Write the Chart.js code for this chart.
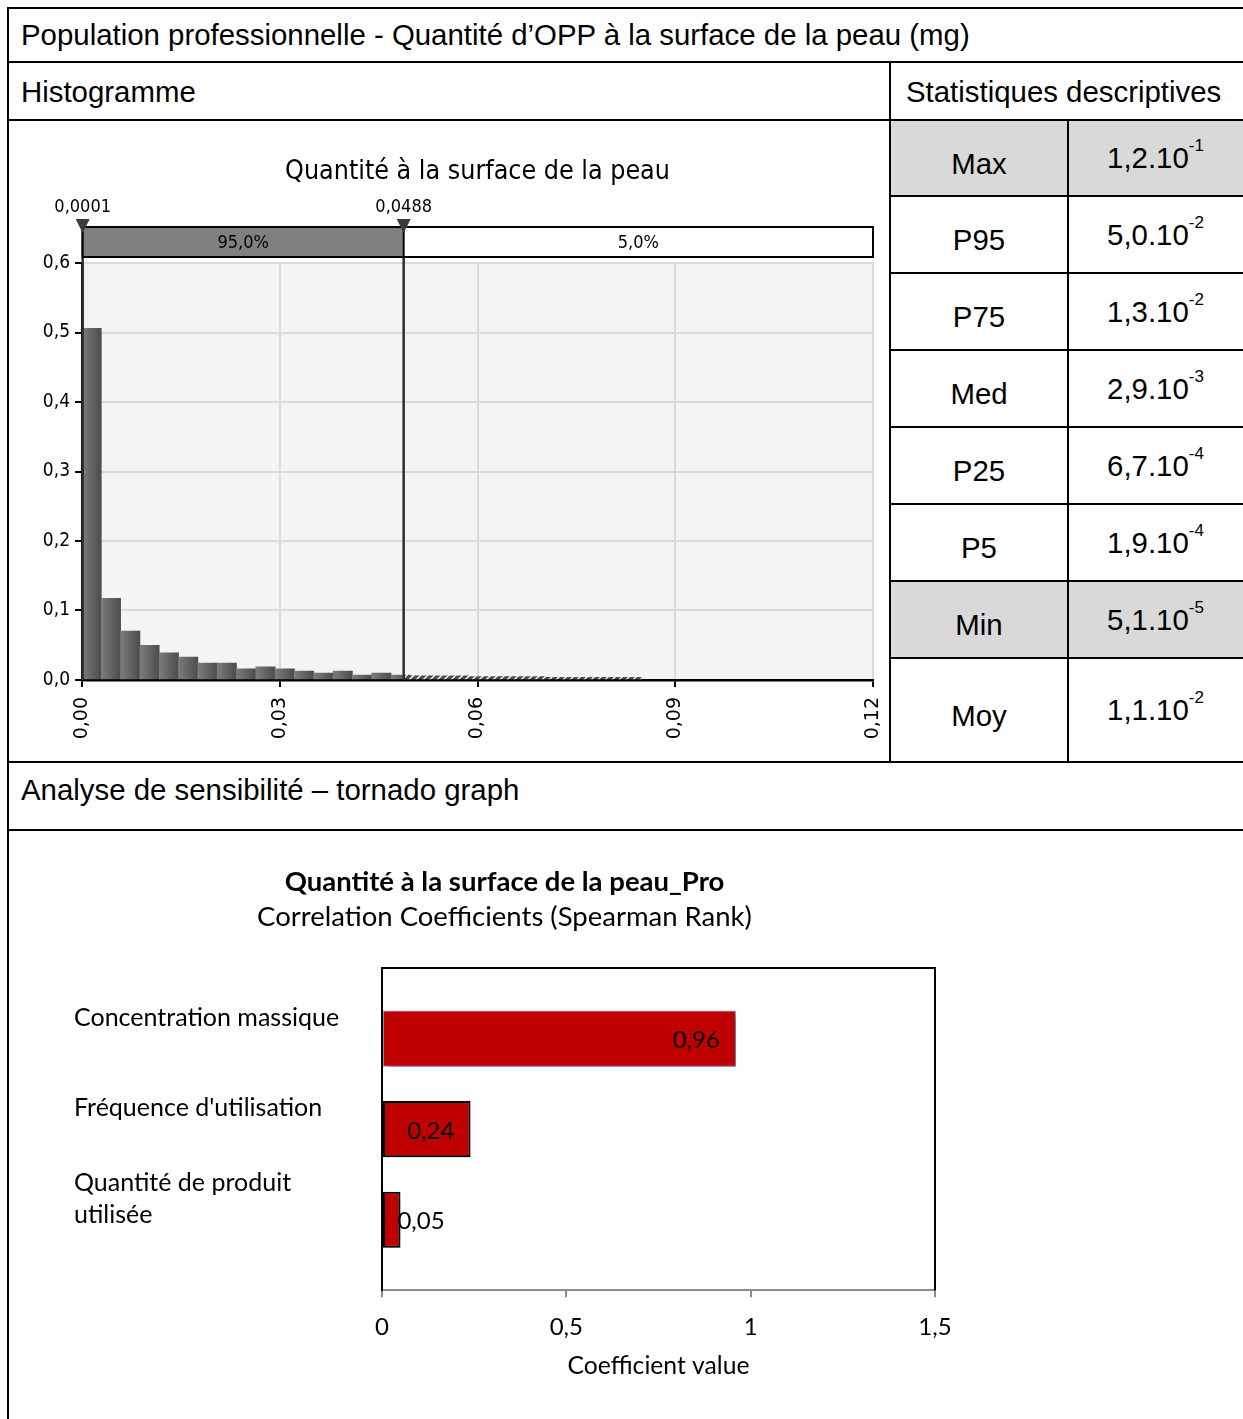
<!DOCTYPE html>
<html lang="fr">
<head>
<meta charset="utf-8">
<title>Quantité d’OPP à la surface de la peau</title>
<script src="https://cdn.jsdelivr.net/npm/chart.js@4.4.0/dist/chart.umd.min.js"></script>
<style>
  html, body { margin: 0; padding: 0; background: #fff; }
  #page { position: relative; width: 1243px; height: 1419px; overflow: hidden;
          font-family: "Liberation Sans", Arial, sans-serif; color: #000; }
  .trait { position: absolute; background: #000; }
  .entete { position: absolute; font-size: 29.4px; line-height: 28px; white-space: nowrap; }
  .cellule { position: absolute; display: flex; align-items: center; justify-content: center;
             font-size: 29.4px; box-sizing: border-box; }
  .cellule.nom { padding-top: 11px; }
  .grise { background: #d9d9d9; }
  .cellule sup { font-size: 17px; position: relative; top: -12px; vertical-align: baseline; line-height: 0; }
  canvas { position: absolute; }
</style>
</head>
<body>
<div id="page">
  <div class="entete" style="left:21px; top:21px;">Population professionnelle - Quantité d’OPP à la surface de la peau (mg)</div>
  <div class="entete" style="left:21px; top:78px;">Histogramme</div>
  <div class="entete" style="left:906px; top:78px;">Statistiques descriptives</div>
  <div class="entete" style="left:21px; top:776px;">Analyse de sensibilité – tornado graph</div>

  <canvas id="histogramme" width="880" height="640" style="left:9px; top:121px;"></canvas>
  <canvas id="tornado" width="986" height="588" style="left:8px; top:831px;"></canvas>
</div>

<script>
// Histogramme : fréquences relatives par classe
const largeurClasse = 0.00293;
const frequences = [0.506, 0.1175, 0.0705, 0.050, 0.039, 0.033, 0.0245, 0.0245, 0.016, 0.019,
                    0.016, 0.013, 0.010, 0.013, 0.0072, 0.010, 0.0072,
                    0.006, 0.006, 0.006, 0.005, 0.005, 0.005, 0.005, 0.004, 0.004, 0.004, 0.004, 0.004];
const bornes = [0.0001, 0.0488];          // bornes de l'intervalle à 95 %
const partsBornes = ['95,0%', '5,0%'];
const ticksX = [0, 0.03, 0.06, 0.09, 0.12];
const ticksY = [0, 0.1, 0.2, 0.3, 0.4, 0.5, 0.6];

// Statistiques descriptives
const statistiques = ['Max', 'P95', 'P75', 'Med', 'P25', 'P5', 'Min', 'Moy'];
const mantisses = ['1,2', '5,0', '1,3', '2,9', '6,7', '1,9', '5,1', '1,1'];
const exposants = ['-1', '-2', '-2', '-3', '-4', '-4', '-5', '-2'];

// Tornado : coefficients de Spearman
const facteurs = ['Concentration massique', "Fréquence d'utilisation", ['Quantité de produit', 'utilisée']];
const coefficients = [0.96, 0.24, 0.05];
const ticksCoeff = [0, 0.5, 1, 1.5];

const virgule = (v, d) => v.toFixed(d).replace('.', ',');

// ---- tableau : traits et cellules ----
const page = document.getElementById('page');
function trait(x, y, l, h) {
  const d = document.createElement('div');
  d.className = 'trait';
  Object.assign(d.style, { left: x + 'px', top: y + 'px', width: l + 'px', height: h + 'px' });
  page.appendChild(d);
}

const lignesStats = [120, 196, 273, 350, 427, 504, 581, 658, 762];
const lignesGrisees = ['Max', 'Min'];

statistiques.forEach((nom, i) => {
  const haut = lignesStats[i], bas = lignesStats[i + 1];
  const grise = lignesGrisees.includes(nom) ? ' grise' : '';
  const c1 = document.createElement('div');
  c1.className = 'cellule nom' + grise;
  Object.assign(c1.style, { left: '890px', top: haut + 'px', width: '178px', height: (bas - haut) + 'px' });
  c1.textContent = nom;
  const c2 = document.createElement('div');
  c2.className = 'cellule' + grise;
  Object.assign(c2.style, { left: '1068px', top: haut + 'px', width: '175px', height: (bas - haut) + 'px' });
  c2.innerHTML = mantisses[i] + '.10<sup>' + exposants[i] + '</sup>';
  page.appendChild(c1);
  page.appendChild(c2);
});

trait(8, 7, 1235, 2);
trait(7, 7, 2, 1412);
trait(8, 61, 1235, 2);
trait(8, 119, 1235, 2);
trait(889, 62, 2, 700);
trait(1067, 120, 2, 642);
lignesStats.slice(1, -1).forEach(y => trait(890, y - 1, 353, 2));
trait(8, 761, 1235, 2);
trait(8, 829, 1235, 2);

// ---- histogramme ----
const policeHisto = '"DejaVu Sans Condensed", "DejaVu Sans", sans-serif';

function motifHachure() {
  const c = document.createElement('canvas');
  c.width = 7; c.height = 7;
  const g = c.getContext('2d');
  g.fillStyle = '#4d4d4d';
  g.fillRect(0, 0, 7, 7);
  g.strokeStyle = '#ffffff';
  g.lineWidth = 1.3;
  g.beginPath(); g.moveTo(0, 7); g.lineTo(7, 0); g.stroke();
  return g.createPattern(c, 'repeat');
}

function degradeBarre(context) {
  const { chart, parsed } = context;
  const ech = chart.scales.x;
  if (!parsed || !ech) return '#5a5a5a';
  const xa = ech.getPixelForValue(parsed.x - largeurClasse / 2);
  const xb = ech.getPixelForValue(parsed.x + largeurClasse / 2);
  if (!Number.isFinite(xa) || !Number.isFinite(xb)) return '#5a5a5a';
  const g = chart.ctx.createLinearGradient(xa, 0, xb, 0);
  g.addColorStop(0, '#7c7c7c');
  g.addColorStop(1, '#4c4c4c');
  return g;
}

const classes = frequences.map((f, i) => ({ x: (i + 0.5) * largeurClasse, y: f }));
const avantSeuil = classes.filter(p => p.x - largeurClasse / 2 < bornes[1]);
const apresSeuil = classes.filter(p => p.x + largeurClasse / 2 > bornes[1]);

const fondGraphe = {
  id: 'fondGraphe',
  beforeDraw(chart) {
    const { ctx, chartArea: a } = chart;
    ctx.save();
    ctx.fillStyle = '#f4f4f4';
    ctx.fillRect(a.left, a.top, a.width, a.height);
    ctx.restore();
  }
};

// chaque série n'est dessinée que de son côté du seuil
const decoupeSeuil = {
  id: 'decoupeSeuil',
  beforeDatasetDraw(chart, args) {
    const { ctx, chartArea: a } = chart;
    const xs = chart.scales.x.getPixelForValue(bornes[1]);
    ctx.save();
    ctx.beginPath();
    if (args.index === 0) ctx.rect(a.left, a.top, xs - a.left, a.height);
    else ctx.rect(xs, a.top, a.right - xs, a.height);
    ctx.clip();
  },
  afterDatasetDraw(chart) { chart.ctx.restore(); }
};

const bandeSeuils = {
  id: 'bandeSeuils',
  afterDatasetsDraw(chart) {
    const { ctx, chartArea: a } = chart;
    const ech = chart.scales.x;
    const x0 = ech.getPixelForValue(bornes[0]);
    const x1 = ech.getPixelForValue(bornes[1]);
    const hautBande = a.top - 36, basBande = a.top - 6;
    ctx.save();

    // titre
    ctx.fillStyle = '#000';
    ctx.font = '26.6px ' + policeHisto;
    ctx.textAlign = 'center';
    ctx.textBaseline = 'middle';
    ctx.fillText('Quantité à la surface de la peau', (a.left + a.right) / 2, a.top - 91);

    // lignes des seuils
    ctx.strokeStyle = '#2e2e2e';
    ctx.lineWidth = 2.5;
    [x0, x1].forEach(x => {
      ctx.beginPath(); ctx.moveTo(x, hautBande); ctx.lineTo(x, a.bottom); ctx.stroke();
    });

    // bande des pourcentages
    ctx.fillStyle = '#808080';
    ctx.fillRect(x0, hautBande, x1 - x0, basBande - hautBande);
    ctx.fillStyle = '#ffffff';
    ctx.fillRect(x1, hautBande, a.right - x1, basBande - hautBande);
    ctx.strokeStyle = '#000';
    ctx.lineWidth = 2;
    ctx.strokeRect(x0, hautBande, a.right - x0, basBande - hautBande);
    ctx.beginPath(); ctx.moveTo(x1, hautBande); ctx.lineTo(x1, basBande); ctx.stroke();

    ctx.font = '18px ' + policeHisto;
    ctx.fillStyle = '#000';
    const milieu = (hautBande + basBande) / 2 + 1;
    ctx.fillText(partsBornes[0], (x0 + x1) / 2, milieu);
    ctx.fillText(partsBornes[1], (x1 + a.right) / 2, milieu);

    // marqueurs et valeurs
    bornes.forEach((b, i) => {
      const x = [x0, x1][i];
      ctx.fillStyle = '#3c3c3c';
      ctx.beginPath();
      ctx.moveTo(x - 7, hautBande - 8);
      ctx.lineTo(x + 7, hautBande - 8);
      ctx.lineTo(x, hautBande + 6);
      ctx.closePath();
      ctx.fill();
      ctx.fillStyle = '#000';
      ctx.fillText(virgule(b, 4), x, hautBande - 20);
    });
    ctx.restore();
  }
};

new Chart(document.getElementById('histogramme'), {
  type: 'bar',
  data: {
    datasets: [
      { data: avantSeuil, backgroundColor: degradeBarre, borderWidth: 0,
        grouped: false, barPercentage: 1, categoryPercentage: 1 },
      { data: apresSeuil, backgroundColor: motifHachure(), borderWidth: 0,
        grouped: false, barPercentage: 1, categoryPercentage: 1 }
    ]
  },
  options: {
    responsive: false,
    animation: false,
    layout: { padding: { top: 142, right: 0, left: 0, bottom: 0 } },
    plugins: { legend: { display: false }, tooltip: { enabled: false } },
    scales: {
      x: {
        type: 'linear', min: ticksX[0], max: ticksX[ticksX.length - 1], offset: false,
        afterBuildTicks: s => { s.ticks = ticksX.map(v => ({ value: v })); },
        afterFit: s => { s.height = 81; s.paddingRight = 16; s.paddingLeft = 0; },
        ticks: { minRotation: 90, maxRotation: 90, autoSkip: false, padding: 10, color: '#000',
                 font: { family: '"DejaVu Sans", sans-serif', size: 19 }, callback: v => virgule(v, 2) },
        grid: { color: '#dadada', lineWidth: 2, tickColor: '#000', tickLength: 7, offset: false },
        border: { color: '#000', width: 2.5 }
      },
      y: {
        min: ticksY[0], max: ticksY[ticksY.length - 1],
        afterBuildTicks: s => { s.ticks = ticksY.map(v => ({ value: v })); },
        afterFit: s => { s.width = 73; },
        ticks: { padding: 5, color: '#000', font: { family: policeHisto, size: 19 },
                 callback: v => virgule(v, 1) },
        grid: { color: '#dadada', lineWidth: 2, tickColor: '#000', tickLength: 7 },
        border: { color: '#000', width: 2.5 }
      }
    }
  },
  plugins: [fondGraphe, decoupeSeuil, bandeSeuils]
});

// ---- tornado ----
const familleTornado = 'Lato, "Open Sans", sans-serif';

const ombreBarres = {
  id: 'ombreBarres',
  beforeDatasetDraw(chart) {
    const ctx = chart.ctx;
    ctx.save();
    ctx.shadowColor = 'rgba(0,0,0,0.38)';
    ctx.shadowBlur = 8;
    ctx.shadowOffsetX = 4;
    ctx.shadowOffsetY = 4;
  },
  afterDatasetDraw(chart) { chart.ctx.restore(); }
};

const cadreTornado = {
  id: 'cadreTornado',
  afterDraw(chart) {
    const { ctx, chartArea: a } = chart;
    ctx.save();
    ctx.strokeStyle = '#000';
    ctx.lineWidth = 2;
    ctx.beginPath();
    ctx.moveTo(a.left, a.top);
    ctx.lineTo(a.right, a.top);
    ctx.lineTo(a.right, a.bottom);
    ctx.stroke();
    ctx.restore();
  }
};

const valeursBarres = {
  id: 'valeursBarres',
  afterDatasetsDraw(chart) {
    const ctx = chart.ctx;
    const meta = chart.getDatasetMeta(0);
    ctx.save();
    ctx.font = '24px ' + familleTornado;
    ctx.fillStyle = '#000';
    ctx.textBaseline = 'middle';
    meta.data.forEach((barre, i) => {
      const texte = virgule(coefficients[i], 2);
      const w = ctx.measureText(texte).width;
      const largeur = barre.x - barre.base;
      if (largeur > 3 * w) {
        ctx.textAlign = 'right';
        ctx.fillText(texte, barre.x - 16, barre.y + 2);
      } else if (largeur > w + 10) {
        ctx.textAlign = 'center';
        ctx.fillText(texte, (barre.x + barre.base) / 2 + 4, barre.y + 2);
      } else {
        ctx.textAlign = 'left';
        ctx.fillText(texte, barre.x - 3, barre.y + 2);
      }
    });
    ctx.restore();
  }
};

new Chart(document.getElementById('tornado'), {
  type: 'bar',
  data: {
    datasets: [{
      data: coefficients.map((c, i) => ({ x: c, y: i })),
      backgroundColor: '#c00000',
      borderColor: ['#7f97c2', '#000', '#000'],
      borderWidth: [1, 2, 2],
      borderSkipped: false,
      barPercentage: 0.62,
      categoryPercentage: 1
    }]
  },
  options: {
    indexAxis: 'y',
    responsive: false,
    animation: false,
    layout: { padding: { left: 66, right: 59, top: 0, bottom: 34 } },
    plugins: {
      legend: { display: false },
      tooltip: { enabled: false },
      title: { display: true, text: 'Quantité à la surface de la peau_Pro', color: '#000',
               font: { family: familleTornado, size: 27.5, weight: 'bold' },
               padding: { top: 34.5, bottom: 0 } },
      subtitle: { display: true, text: 'Correlation Coefficients (Spearman Rank)', color: '#000',
                  font: { family: familleTornado, size: 27.5 },
                  padding: { top: 2, bottom: 34.5 } }
    },
    scales: {
      x: {
        type: 'linear', min: ticksCoeff[0], max: ticksCoeff[ticksCoeff.length - 1], offset: false,
        afterBuildTicks: s => { s.ticks = ticksCoeff.map(v => ({ value: v })); },
        ticks: { padding: 18, color: '#000', font: { family: familleTornado, size: 24, lineHeight: 1 },
                 callback: v => String(v).replace('.', ',') },
        grid: { drawOnChartArea: false, tickLength: 7, tickColor: '#8a8a8a', lineWidth: 2, offset: false },
        border: { color: '#8a8a8a', width: 2 },
        title: { display: true, text: 'Coefficient value', color: '#000',
                 font: { family: familleTornado, size: 24.7 }, padding: { top: -6, bottom: 4 } }
      },
      y: {
        type: 'linear', min: -0.78, max: 2.78, reverse: true, offset: false,
        afterBuildTicks: s => { s.ticks = facteurs.map((_, i) => ({ value: i })); },
        afterFit: s => { s.width = 308; },
        ticks: { crossAlign: 'far', labelOffset: -21, color: '#000',
                 font: { family: familleTornado, size: 25, lineHeight: 1.3 },
                 callback: v => facteurs[v] },
        grid: { drawOnChartArea: false, drawTicks: false, offset: false },
        border: { color: '#000', width: 2 }
      }
    }
  },
  plugins: [ombreBarres, cadreTornado, valeursBarres]
});
</script>
</body>
</html>
